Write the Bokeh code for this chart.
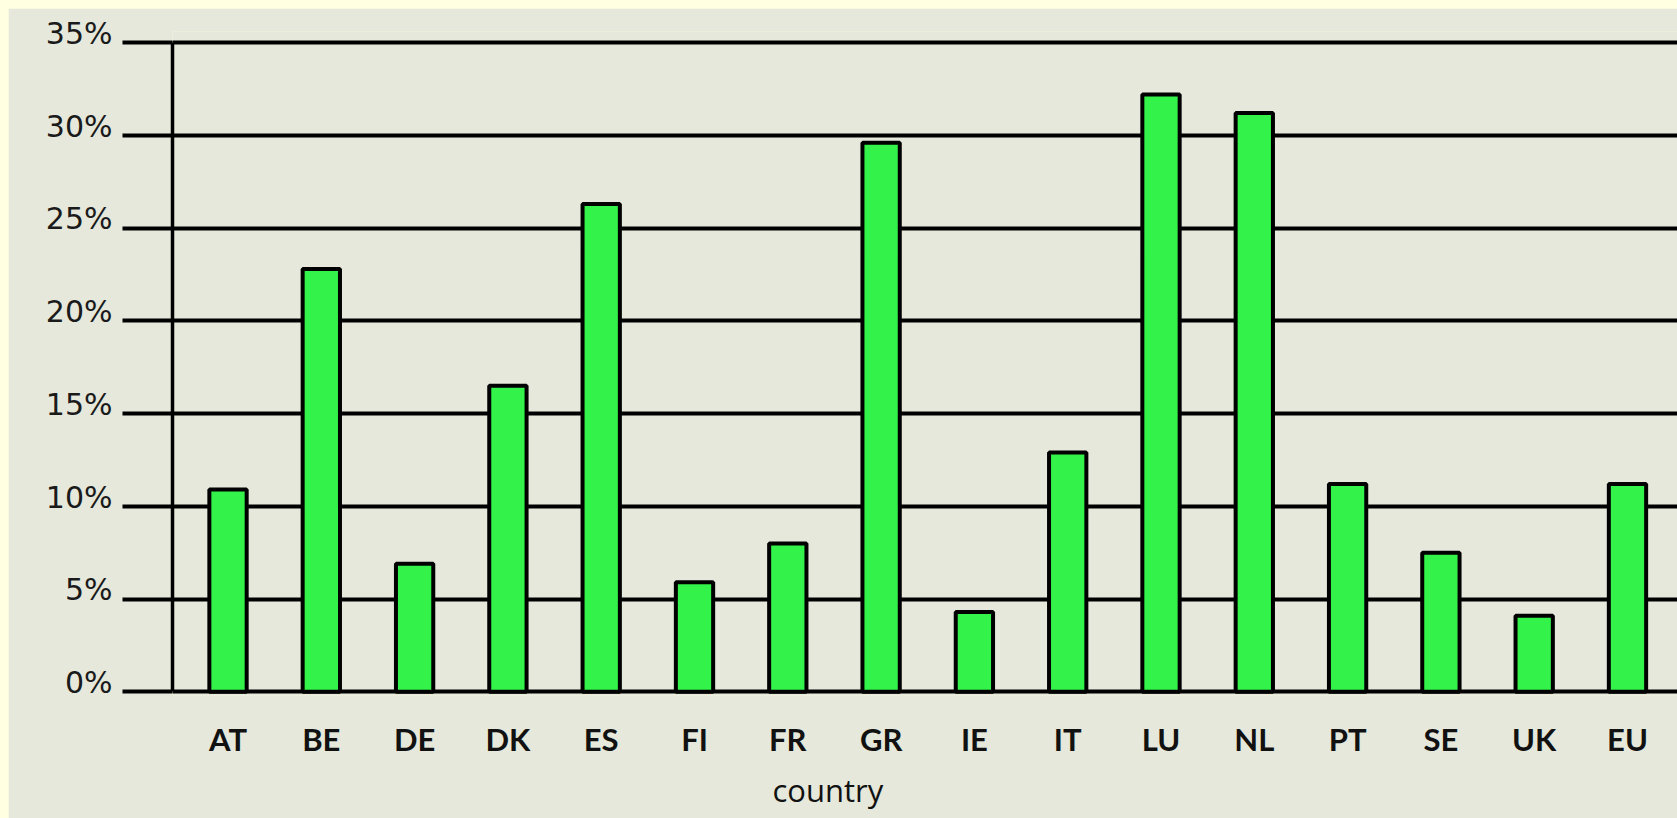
from bokeh.plotting import figure
from bokeh.models import FixedTicker, Range1d, Title, ColumnDataSource, LinearAxis
from bokeh.embed import file_html
from bokeh.resources import INLINE

# ---- data ----
countries = ["AT", "BE", "DE", "DK", "ES", "FI", "FR", "GR",
             "IE", "IT", "LU", "NL", "PT", "SE", "UK", "EU"]
shares = [10.9, 22.8, 6.9, 16.5, 26.3, 5.9, 8.0, 29.6,
          4.3, 12.9, 32.2, 31.2, 11.2, 7.5, 4.1, 11.2]
y_ticks = [0, 5, 10, 15, 20, 25, 30, 35]
y_tick_labels = ["0%", "5%", "10%", "15%", "20%", "25%", "30%", "35%"]
x_title = "country"

positions = list(range(len(countries)))
src = ColumnDataSource(dict(x=positions, share=shares, country=countries))

BG = "#E5E8DA"
LABEL_LIFT = 0.5  # tick labels sit just above their grid line

p = figure(width=1669, height=810, output_backend="svg", toolbar_location=None,
           x_range=Range1d(-0.595, 15.536), y_range=Range1d(-0.2, 35.6),
           min_border_left=164, min_border_top=23, min_border_right=0,
           min_border_bottom=123)
p.background_fill_color = BG
p.border_fill_color = BG
p.outline_line_color = None

p.vbar(x="x", top="share", bottom=0, width=0.40, source=src,
       fill_color="#33F24A", line_color="black", line_width=4)

# y axis: line + ticks (ticks form the left stubs of the grid lines)
ya = p.yaxis[0]
ya.bounds = (y_ticks[0], y_ticks[-1])
ya.ticker = FixedTicker(ticks=y_ticks)
ya.major_label_overrides = {t: "" for t in y_ticks}
ya.major_label_standoff = 0
ya.major_tick_out = 50
ya.major_tick_in = 0
ya.major_tick_line_width = 4
ya.major_tick_line_color = "black"
ya.minor_tick_line_color = None
ya.axis_line_width = 3.5
ya.axis_line_color = "black"

# y labels axis (labels only, sitting above the lines)
lab_pos = [t + LABEL_LIFT for t in y_ticks]
yl = LinearAxis(ticker=FixedTicker(ticks=lab_pos))
yl.major_label_overrides = {lp: l for lp, l in zip(lab_pos, y_tick_labels)}
yl.axis_line_color = None
yl.major_tick_line_color = None
yl.minor_tick_line_color = None
yl.major_tick_out = 0
yl.major_tick_in = 0
yl.major_label_standoff = 10
yl.major_label_text_font = "DejaVu Sans"
yl.major_label_text_font_size = "30px"
yl.major_label_text_color = "#1a1a1a"
p.add_layout(yl, "left")

# x axis
xa = p.xaxis[0]
xa.ticker = FixedTicker(ticks=positions)
xa.major_label_overrides = {i: c for i, c in zip(positions, countries)}
xa.major_tick_out = 0
xa.major_tick_in = 0
xa.minor_tick_line_color = None
xa.axis_line_color = None
xa.major_label_standoff = 24
xa.major_label_text_font = "Lato"
xa.major_label_text_font_style = "bold"
xa.major_label_text_font_size = "31px"
xa.major_label_text_color = "#111111"

# grid
p.ygrid.ticker = FixedTicker(ticks=y_ticks)
p.ygrid.grid_line_color = "black"
p.ygrid.grid_line_width = 4
p.ygrid.grid_line_alpha = 1.0
p.xgrid.visible = False

t = Title(text=x_title, align="left", offset=600, standoff=12,
          text_font="Open Sans", text_font_size="31px",
          text_font_style="normal", text_color="#111111")
p.add_layout(t, "below")

html = file_html(p, INLINE)
css = ("<style>html,body{overflow:hidden;}"
       "body{background:#FFFFE1 !important;padding:8px 0 0 8px !important;"
       "box-sizing:border-box;}</style></head>")
html = html.replace("</head>", css, 1)
open("out.html", "w").write(html)
